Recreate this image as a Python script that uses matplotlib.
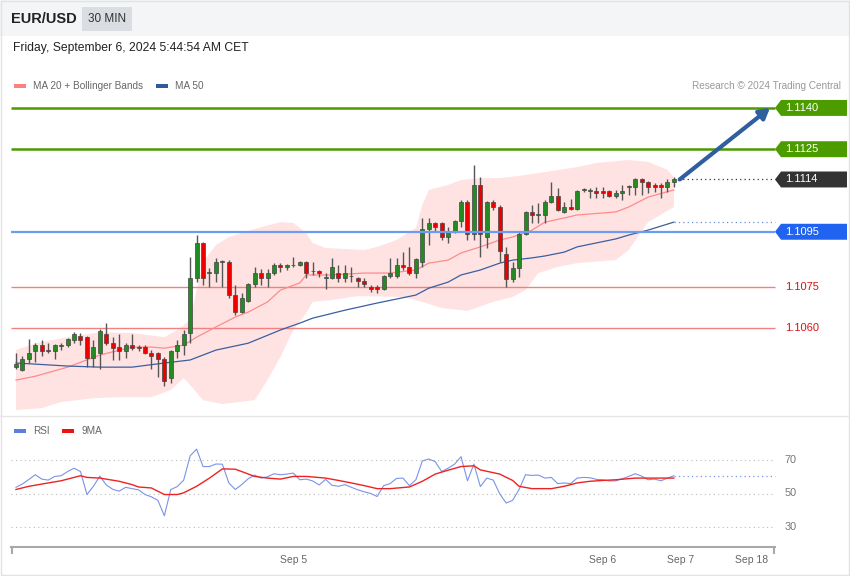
import numpy as np
import matplotlib
matplotlib.use('Agg')
import matplotlib.pyplot as plt
from matplotlib.patches import Rectangle, Polygon
from matplotlib.lines import Line2D
from matplotlib.transforms import blended_transform_factory

plt.rcParams['font.family'] = ['Liberation Sans', 'DejaVu Sans']

#-------------------------------------------------------
# Candles EUR/USD 30 min
opens = [1.10458, 1.10447, 1.10487, 1.10516, 1.10538, 1.10520, 1.10516, 1.10536, 1.10538, 1.10556,
         1.10571, 1.10567, 1.10491, 1.10509, 1.10578, 1.10545, 1.10531, 1.10516, 1.10538, 1.10531,
         1.10531, 1.10509, 1.10509, 1.10487, 1.10418, 1.10516, 1.10538, 1.10582, 1.10782, 1.10909,
         1.10800, 1.10800, 1.10840, 1.10840, 1.10720, 1.10658, 1.10698, 1.10760, 1.10800, 1.10782,
         1.10800, 1.10829, 1.10822, 1.10829, 1.10829, 1.10840, 1.10807, 1.10807, 1.10782, 1.10782,
         1.10800, 1.10782, 1.10789, 1.10782, 1.10771, 1.10749, 1.10749, 1.10742, 1.10789, 1.10789,
         1.10829, 1.10822, 1.10800, 1.10840, 1.10960, 1.10982, 1.10982, 1.10931, 1.10949, 1.10989,
         1.11058, 1.10942, 1.11120, 1.10931, 1.11058, 1.11040, 1.10869, 1.10778, 1.10818, 1.10942,
         1.11022, 1.11011, 1.11011, 1.11058, 1.11080, 1.11022, 1.11040, 1.11033, 1.11102, 1.11098,
         1.11098, 1.11098, 1.11098, 1.11080, 1.11091, 1.11113, 1.11113, 1.11142, 1.11131, 1.11120,
         1.11120, 1.11113, 1.11131]
highs = [1.10509, 1.10498, 1.10560, 1.10545, 1.10556, 1.10545, 1.10542, 1.10545, 1.10564, 1.10585,
         1.10582, 1.10571, 1.10556, 1.10596, 1.10618, 1.10567, 1.10578, 1.10545, 1.10578, 1.10538,
         1.10538, 1.10520, 1.10513, 1.10495, 1.10520, 1.10556, 1.10593, 1.10858, 1.10938, 1.10913,
         1.10818, 1.10855, 1.10847, 1.10847, 1.10756, 1.10727, 1.10764, 1.10822, 1.10815, 1.10815,
         1.10836, 1.10836, 1.10833, 1.10858, 1.10844, 1.10844, 1.10840, 1.10811, 1.10800, 1.10855,
         1.10829, 1.10829, 1.10822, 1.10785, 1.10782, 1.10756, 1.10756, 1.10793, 1.10855, 1.10855,
         1.10876, 1.10895, 1.10855, 1.11000, 1.11000, 1.10985, 1.10985, 1.10967, 1.10993, 1.11065,
         1.11065, 1.11193, 1.11149, 1.11062, 1.11065, 1.11047, 1.10895, 1.10840, 1.10949, 1.11025,
         1.11047, 1.11055, 1.11065, 1.11131, 1.11109, 1.11058, 1.11069, 1.11102, 1.11109, 1.11109,
         1.11113, 1.11113, 1.11102, 1.11102, 1.11120, 1.11120, 1.11145, 1.11145, 1.11135, 1.11127,
         1.11127, 1.11142, 1.11149]
lows = [1.10451, 1.10444, 1.10473, 1.10476, 1.10498, 1.10509, 1.10487, 1.10520, 1.10531, 1.10545,
        1.10538, 1.10458, 1.10458, 1.10451, 1.10538, 1.10484, 1.10484, 1.10491, 1.10520, 1.10516,
        1.10505, 1.10451, 1.10422, 1.10389, 1.10400, 1.10491, 1.10502, 1.10545, 1.10767, 1.10756,
        1.10749, 1.10767, 1.10749, 1.10709, 1.10647, 1.10655, 1.10695, 1.10749, 1.10756, 1.10749,
        1.10793, 1.10804, 1.10811, 1.10822, 1.10825, 1.10782, 1.10793, 1.10785, 1.10742, 1.10778,
        1.10767, 1.10767, 1.10767, 1.10749, 1.10749, 1.10731, 1.10727, 1.10738, 1.10782, 1.10782,
        1.10811, 1.10793, 1.10782, 1.10822, 1.10902, 1.10949, 1.10920, 1.10909, 1.10945, 1.10967,
        1.10920, 1.10920, 1.10858, 1.10891, 1.11029, 1.10840, 1.10749, 1.10767, 1.10785, 1.10938,
        1.10982, 1.10982, 1.10982, 1.11055, 1.11025, 1.11018, 1.11029, 1.11029, 1.11095, 1.11073,
        1.11073, 1.11073, 1.11076, 1.11073, 1.11065, 1.11084, 1.11084, 1.11084, 1.11091, 1.11095,
        1.11073, 1.11095, 1.11113]
closes = [1.10469, 1.10487, 1.10509, 1.10538, 1.10516, 1.10516, 1.10538, 1.10538, 1.10560, 1.10578,
          1.10556, 1.10491, 1.10531, 1.10589, 1.10545, 1.10527, 1.10516, 1.10538, 1.10527, 1.10527,
          1.10509, 1.10498, 1.10487, 1.10407, 1.10516, 1.10538, 1.10578, 1.10782, 1.10909, 1.10782,
          1.10802, 1.10840, 1.10842, 1.10720, 1.10658, 1.10709, 1.10760, 1.10800, 1.10782, 1.10800,
          1.10829, 1.10822, 1.10829, 1.10831, 1.10840, 1.10800, 1.10809, 1.10800, 1.10784, 1.10822,
          1.10782, 1.10800, 1.10791, 1.10771, 1.10760, 1.10742, 1.10742, 1.10789, 1.10800, 1.10829,
          1.10822, 1.10800, 1.10851, 1.10960, 1.10982, 1.10967, 1.10931, 1.10949, 1.10989, 1.11058,
          1.10942, 1.11120, 1.10942, 1.11058, 1.11040, 1.10880, 1.10778, 1.10818, 1.10942, 1.11022,
          1.11011, 1.11013, 1.11058, 1.11080, 1.11029, 1.11040, 1.11033, 1.11098, 1.11104, 1.11100,
          1.11091, 1.11091, 1.11080, 1.11091, 1.11098, 1.11115, 1.11142, 1.11131, 1.11113, 1.11113,
          1.11113, 1.11131, 1.11142]

# MA 20, Bollinger bands, MA 50 (read at some candles)
ma20_x = [0, 3, 8, 13, 18, 21, 23, 26, 28, 31, 34, 36, 39, 41, 44, 45, 49, 54, 58, 62,
          64, 67, 69, 72, 75, 77, 80, 82, 85, 87, 93, 95, 98, 102]
ma20 = [1.10411, 1.10425, 1.10458, 1.10502, 1.10531, 1.10531, 1.10527, 1.10538, 1.10567, 1.10604,
        1.10640, 1.10658, 1.10695, 1.10738, 1.10764, 1.10793, 1.10793, 1.10800, 1.10800, 1.10811,
        1.10836, 1.10847, 1.10873, 1.10895, 1.10920, 1.10931, 1.10956, 1.10985, 1.11000, 1.11011,
        1.11022, 1.11040, 1.11076, 1.11102]
bb_up_x = [0, 3, 8, 13, 18, 23, 25, 27, 28, 29, 31, 33, 38, 41, 43, 45, 46, 48, 54, 56,
           59, 62, 63, 64, 67, 69, 72, 75, 78, 82, 87, 90, 95, 98, 101, 102]
bb_up = [1.10520, 1.10545, 1.10567, 1.10585, 1.10582, 1.10567, 1.10593, 1.10629, 1.10738, 1.10840,
         1.10902, 1.10931, 1.10967, 1.10985, 1.10982, 1.10945, 1.10909, 1.10891, 1.10884, 1.10895,
         1.10920, 1.10964, 1.11047, 1.11102, 1.11120, 1.11138, 1.11145, 1.11145, 1.11153, 1.11167,
         1.11185, 1.11200, 1.11211, 1.11204, 1.11175, 1.11149]
bb_low_x = [0, 4, 7, 12, 16, 21, 24, 26, 27, 29, 32, 37, 39, 41, 43, 45, 46, 49, 53, 60,
            63, 66, 70, 74, 77, 79, 81, 84, 87, 93, 95, 98, 102]
bb_low = [1.10302, 1.10309, 1.10331, 1.10345, 1.10349, 1.10349, 1.10375, 1.10418, 1.10393, 1.10338,
          1.10324, 1.10338, 1.10411, 1.10495, 1.10593, 1.10655, 1.10695, 1.10702, 1.10716, 1.10713,
          1.10695, 1.10673, 1.10662, 1.10695, 1.10713, 1.10738, 1.10800, 1.10822, 1.10836, 1.10847,
          1.10884, 1.10985, 1.11040]
ma50_x = [0, 3, 8, 13, 18, 23, 27, 31, 36, 41, 44, 46, 51, 56, 62, 64, 67, 69, 72, 75,
          77, 80, 82, 85, 87, 93, 95, 98, 102]
ma50 = [1.10473, 1.10469, 1.10462, 1.10458, 1.10458, 1.10473, 1.10484, 1.10520, 1.10545, 1.10593,
        1.10618, 1.10636, 1.10665, 1.10691, 1.10720, 1.10745, 1.10767, 1.10793, 1.10811, 1.10836,
        1.10847, 1.10855, 1.10862, 1.10876, 1.10895, 1.10924, 1.10938, 1.10956, 1.10985]

# RSI and its 9MA
rsi = [53.7, 55.7, 58.4, 61.2, 58.6, 58.0, 60.2, 60.6, 63.1, 65.1,
       63.1, 49.4, 54.3, 60.4, 55.1, 52.5, 51.4, 53.7, 52.9, 52.2,
       49.4, 48.0, 45.9, 36.7, 52.4, 54.1, 58.0, 72.5, 76.5, 66.1,
       66.1, 67.6, 67.5, 56.3, 52.4, 55.3, 58.8, 61.0, 59.2, 60.0,
       61.8, 61.2, 61.6, 62.2, 58.2, 58.6, 57.5, 55.1, 58.4, 54.9,
       54.3, 55.3, 53.7, 52.2, 51.0, 50.0, 48.2, 54.7, 55.9, 59.0,
       59.2, 54.7, 58.2, 69.4, 70.6, 69.0, 63.1, 65.1, 67.5, 72.0,
       57.6, 67.5, 54.1, 59.2, 58.0, 49.8, 44.3, 45.9, 52.4, 61.2,
       60.8, 61.0, 59.2, 59.6, 55.9, 56.3, 55.9, 59.2, 59.6, 59.4,
       58.4, 58.2, 57.5, 57.6, 58.8, 60.2, 61.8, 60.4, 58.2, 58.6,
       57.6, 59.2, 60.6]
ma9_x = [0, 2, 5, 7, 10, 11, 13, 16, 18, 19, 21, 23, 25, 26, 28, 30, 32, 34, 35, 37,
         39, 41, 43, 45, 48, 50, 52, 54, 56, 58, 61, 63, 65, 67, 69, 71, 72, 75, 77, 78,
         80, 83, 85, 87, 89, 91, 93, 96, 98, 102]
ma9 = [52.4, 54.3, 56.3, 57.6, 60.6, 59.6, 59.2, 57.3, 55.3, 53.9,
       53.3, 49.4, 49.4, 50.4, 54.3, 59.2, 64.7, 64.5, 63.1, 60.2,
       59.2, 58.6, 60.2, 60.2, 59.2, 57.8, 56.3, 54.7, 52.9, 52.9,
       53.9, 57.3, 61.6, 63.9, 66.1, 66.5, 64.1, 61.6, 57.8, 54.3,
       52.9, 52.9, 54.3, 56.3, 57.3, 57.8, 58.2, 59.2, 59.2, 59.2]

# Levels
res_levels = [1.1140, 1.1125]
piv_level = 1.1095
sup_levels = [1.1075, 1.1060]
last_price = 1.1114
rsi_grid = [70, 50, 30]

date_pos = [43, 91, 103, 114]
date_lab = ['Sep 5', 'Sep 6', 'Sep 7', 'Sep 18']

#-------------------------------------------------------
W, H = 850, 576
def fx(px):
    return px / W
def fy(py):
    return 1 - py / H

fig = plt.figure(figsize=(8.5, 5.76), dpi=100)

# header
fig.add_artist(Rectangle((0, fy(36)), 1, 36 / H, transform=fig.transFigure, fc='#f4f5f7', ec='none'))
fig.add_artist(Rectangle((fx(82), fy(31)), fx(50), 24 / H, transform=fig.transFigure, fc='#dadde2', ec='none'))
fig.text(fx(11), fy(19), 'EUR/USD', fontsize=10.5, fontweight='bold', color='#222222', va='center')
fig.text(fx(107), fy(19), '30 MIN', fontsize=8.5, color='#333333', va='center', ha='center')
fig.text(fx(13), fy(48), 'Friday, September 6, 2024 5:44:54 AM CET', fontsize=8.7, color='#222222', va='center')

# legends
def leg(x, y, col, txt):
    fig.add_artist(Rectangle((fx(x), fy(y + 2)), fx(12), 4 / H, transform=fig.transFigure, fc=col, ec='none'))
    fig.text(fx(x + 19), fy(y), txt, fontsize=7.2, color='#666666', va='center')

leg(14, 86, '#ff8080', 'MA 20 + Bollinger Bands')
leg(156, 86, '#2f5a9e', 'MA 50')
fig.text(fx(841), fy(86), 'Research \u00a9 2024 Trading Central', fontsize=7.2, color='#999999', va='center', ha='right')
leg(14, 431, '#5b7fe0', 'RSI')
leg(62, 431, '#ee1111', '9MA')

fig.add_artist(Line2D([0, 1], [fy(416), fy(416)], transform=fig.transFigure, color='#e6e6e6', lw=1))
fig.add_artist(Rectangle((0.001, 0.001), 0.998, 0.998, transform=fig.transFigure, fill=False, ec='#e2e2e2', lw=1))

#-------------------------------------------------------
# price panel
x0, x1 = -0.775, 129.0
x_end = 117.67
ax = fig.add_axes([fx(11), fy(412), fx(837), (412 - 95) / H])
ax.set_xlim(x0, x1)
ax.set_ylim(1.10295, 1.11447)
ax.axis('off')

ax.fill(np.concatenate([bb_up_x, bb_low_x[::-1]]), np.concatenate([bb_up, bb_low[::-1]]),
        color='#ffe3e3', lw=0, zorder=1)

for lv in res_levels:
    ax.hlines(lv, x0, x_end, color='#4c9a00', lw=1.8, zorder=2)
for lv in sup_levels:
    ax.hlines(lv, x0, x_end, color='#f28080', lw=1.0, zorder=2)

ax.plot(ma20_x, ma20, color='#ff8a8a', lw=0.9, zorder=3)
ax.plot(ma50_x, ma50, color='#3a5fa0', lw=0.9, zorder=3)

n = len(closes)
idx = np.arange(n)
o = np.array(opens); c = np.array(closes)
up = c >= o
ax.vlines(idx, lows, highs, color='#555555', lw=1, zorder=4)
body = np.maximum(np.abs(c - o), 0.00002)
ax.bar(idx, body, bottom=np.minimum(o, c), width=0.62,
       color=np.where(up, '#228b22', '#ee0000'), edgecolor='#444444', linewidth=0.5, zorder=5)

ax.hlines(piv_level, x0, x_end, color='#6a9cf2', lw=1.6, zorder=6)

# dotted extensions
ax.hlines(last_price, n - 1, x_end, color='#333333', lw=0.9, linestyles=(0, (1, 2.5)), zorder=3)
ax.hlines(ma50[-1], n - 1, x_end, color='#6a8fd0', lw=0.9, linestyles=(0, (1, 2.5)), zorder=3)

ax.annotate('', xy=(116.9, res_levels[0]), xytext=(n - 0.1, last_price),
            arrowprops=dict(arrowstyle='-|>,head_length=0.6,head_width=0.35', color='#2f5f9f', lw=3,
                            shrinkA=0, shrinkB=0), zorder=7)

# price tags
tr = blended_transform_factory(ax.transAxes, ax.transData)
hh = 0.00029
def tag(lv, col):
    ax.add_patch(Polygon([[0.9128, lv], [0.920, lv + hh], [0.9988, lv + hh], [0.9988, lv - hh], [0.920, lv - hh]],
                         closed=True, transform=tr, fc=col, ec='none', zorder=8))
    ax.text(0.9247, lv, '%.4f' % lv, transform=tr, color='white', fontsize=8, va='center', zorder=9)

tag(res_levels[0], '#4c9c00')
tag(res_levels[1], '#4c9c00')
tag(last_price, '#333333')
tag(piv_level, '#1f63f0')
for lv in sup_levels:
    ax.text(0.9247, lv, '%.4f' % lv, transform=tr, color='#dd1111', fontsize=8, va='center')

#-------------------------------------------------------
# RSI panel
ax2 = fig.add_axes([fx(11), fy(547), fx(837), (547 - 440) / H])
ax2.set_xlim(x0, x1)
ax2.set_ylim(18.06, 81.94)
for s in ['top', 'right', 'left']:
    ax2.spines[s].set_visible(False)
ax2.spines['bottom'].set_bounds(x0, x_end)
ax2.spines['bottom'].set_color('#a8a8a8')
ax2.spines['bottom'].set_linewidth(1.5)
ax2.set_yticks([])

tr2 = blended_transform_factory(ax2.transAxes, ax2.transData)
for g in rsi_grid:
    ax2.hlines(g, x0, x_end, color='#bbbbbb', lw=0.8, linestyles=(0, (1, 3)))
    ax2.text(0.9247, g, str(g), transform=tr2, color='#777777', fontsize=7.8, va='center')

ax2.plot(idx, rsi, color='#7b93e6', lw=0.8)
ax2.plot(ma9_x, ma9, color='#ee2222', lw=1.0)
ax2.hlines(rsi[-1], n - 1, x_end, color='#7b93e6', lw=0.9, linestyles=(0, (1, 2.5)))

ax2.set_xticks(date_pos)
ax2.set_xticklabels(date_lab, fontsize=7.5, color='#666666')
ax2.tick_params(axis='x', which='major', length=0, pad=6)
ax2.set_xticks([x0 + 0.1, x_end - 0.1], minor=True)
ax2.tick_params(axis='x', which='minor', length=5, width=1.5, color='#a8a8a8')

fig.savefig('out.png', dpi=100)
